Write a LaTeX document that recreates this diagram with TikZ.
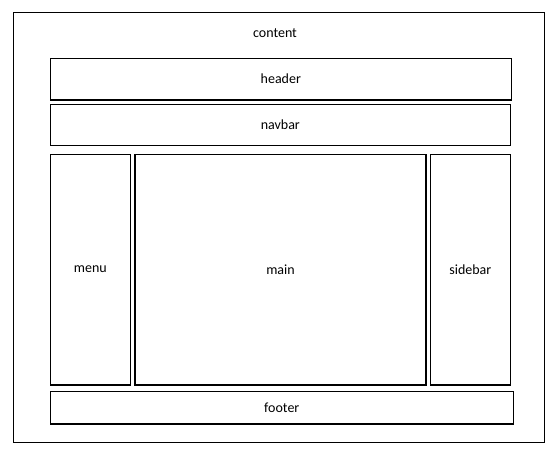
\documentclass[tikz,border=0pt]{standalone}
\usepackage{fontspec}
\setmainfont{Carlito}
\begin{document}
\begin{tikzpicture}[x=0.75pt,y=-0.75pt,
  box/.style={draw=black,line width=0.9pt},
  lbl/.style={font=\fontsize{10.5}{12}\selectfont,inner sep=0pt}]
\useasboundingbox (0,0) rectangle (555,456);
\draw[box] (13.5,12.5) rectangle (544.3,442.7);
\node[lbl] (content) at (275,33) {content};
\draw[box] (50.3,58.3) rectangle (511.3,100) node[midway,lbl] (header) {header};
\draw[box] (50.3,104.3) rectangle (510.3,145.3) node[midway,lbl] (navbar) {navbar};
\draw[box] (50.3,154.3) rectangle (130.3,385) node[midway,lbl] (menu) {menu};
\draw[box] (135,154.3) rectangle (426,385) node[midway,lbl] (main) {main};
\draw[box] (430.3,154.3) rectangle (510.3,385) node[midway,lbl] (sidebar) {sidebar};
\draw[box] (50.3,391.3) rectangle (513.3,424) node[midway,lbl] (footer) {footer};
\end{tikzpicture}
\end{document}
